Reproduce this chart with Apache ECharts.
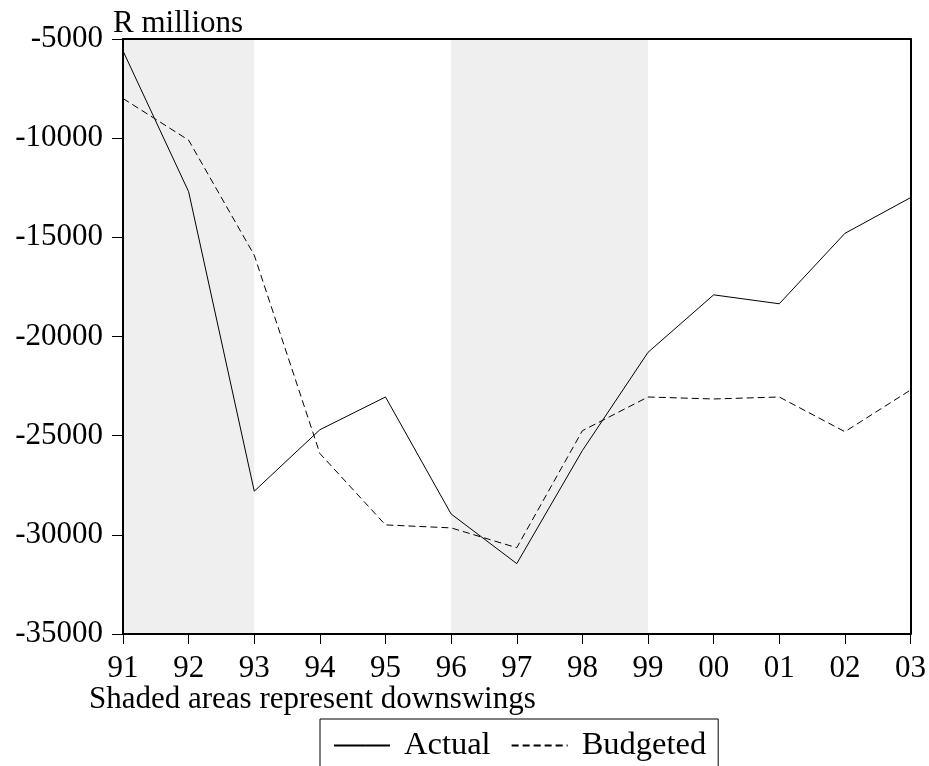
<!DOCTYPE html>
<html>
<head>
<meta charset="utf-8">
<script src="https://cdn.jsdelivr.net/npm/echarts@6/dist/echarts.min.js"></script>
<style>
  html, body { margin: 0; padding: 0; background: #fff; }
  #chart { width: 929px; height: 766px; }
</style>
</head>
<body>
<div id="chart"></div>
<script>
// years on the x axis
var years = ["91", "92", "93", "94", "95", "96", "97", "98", "99", "00", "01", "02", "03"];
// R millions
var actual = [-5600, -12700, -27800, -24700, -23050, -28950, -31450, -25750, -20800, -17900, -18350, -14800, -13000];
var budgeted = [-8000, -10100, -15900, -25900, -29500, -29650, -30650, -24750, -23050, -23150, -23050, -24800, -22700];
// downswing periods (shaded)
var downswings = [["91", "93"], ["96", "99"]];

var font = "Liberation Serif";
var chart = echarts.init(document.getElementById("chart"));

var shade = downswings.map(function (d) {
    return [{ xAxis: d[0] }, { xAxis: d[1] }];
});

chart.setOption({
    animation: false,
    textStyle: { fontFamily: font, color: "#000" },
    grid: { left: 123, right: 17, top: 39, bottom: 132 },
    xAxis: [
        {
            type: "category",
            data: years,
            boundaryGap: false,
            z: 10,
            axisLine: { lineStyle: { color: "#000", width: 2 } },
            axisTick: { length: 10, lineStyle: { color: "#000", width: 1 } },
            axisLabel: { fontFamily: font, fontSize: 31, color: "#000", margin: 19 },
            splitLine: { show: false }
        },
        {
            // top frame
            type: "category",
            data: years,
            boundaryGap: false,
            position: "top",
            z: 10,
            axisLine: { lineStyle: { color: "#000", width: 2 } },
            axisTick: { show: false },
            axisLabel: { show: false },
            splitLine: { show: false }
        }
    ],
    yAxis: [
        {
            type: "value",
            min: -35000,
            max: -5000,
            interval: 5000,
            z: 10,
            axisLine: { show: true, lineStyle: { color: "#000", width: 2 } },
            axisTick: { show: true, length: 11, lineStyle: { color: "#000", width: 1 } },
            axisLabel: {
                fontFamily: font, fontSize: 31, color: "#000", margin: 20,
                formatter: function (v) { return String(v); }
            },
            splitLine: { show: false }
        },
        {
            // right frame
            type: "value",
            min: -35000,
            max: -5000,
            position: "right",
            z: 10,
            axisLine: { show: true, lineStyle: { color: "#000", width: 2 } },
            axisTick: { show: false },
            axisLabel: { show: false },
            splitLine: { show: false }
        }
    ],
    legend: {
        left: 320,
        top: 719,
        padding: [10, 12, 40, 13],
        borderColor: "#000",
        borderWidth: 1,
        itemWidth: 56,
        itemHeight: 2,
        itemGap: 20,
        textStyle: { fontFamily: font, fontSize: 32.5, color: "#000", padding: [0, 0, 0, 9] },
        data: ["Actual", "Budgeted"]
    },
    graphic: [
        {
            type: "text",
            x: 113,
            y: 24,
            style: { text: "R millions", font: "31px '" + font + "'", fill: "#000", verticalAlign: "middle" }
        },
        {
            type: "text",
            x: 89,
            y: 700,
            style: { text: "Shaded areas represent downswings", font: "31px '" + font + "'", fill: "#000", verticalAlign: "middle" }
        }
    ],
    series: [
        {
            name: "Actual",
            type: "line",
            data: actual,
            symbol: "none",
            lineStyle: { color: "#000", width: 1 },
            itemStyle: { color: "#000" },
            markArea: {
                silent: true,
                itemStyle: { color: "#efefef" },
                data: shade
            }
        },
        {
            name: "Budgeted",
            type: "line",
            data: budgeted,
            symbol: "none",
            lineStyle: { color: "#000", width: 1, type: [7, 4] },
            itemStyle: { color: "#000" }
        }
    ]
});
</script>
</body>
</html>
